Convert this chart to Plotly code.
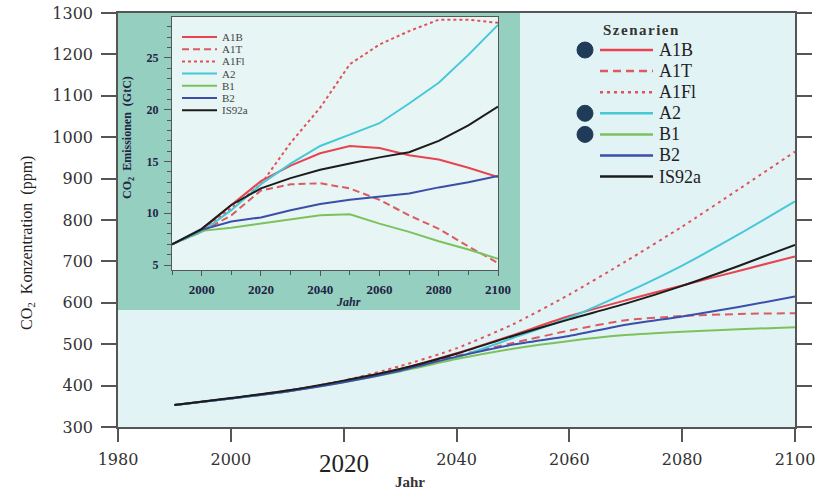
import plotly.graph_objects as go

# ---------------------------------------------------------------- data
years = [1990, 2000, 2010, 2020, 2030, 2040, 2050, 2060, 2070, 2080, 2090, 2100]
scenarios = ["A1B", "A1T", "A1FI", "A2", "B1", "B2", "IS92a"]

# CO2 concentration (ppm)
conc_a1b = [353, 369, 387, 411, 440, 478, 522, 568, 606, 642, 677, 712]
conc_a1t = [353, 369, 387, 410, 437, 472, 503, 533, 558, 568, 573, 575]
conc_a1fi = [353, 369, 388, 412, 447, 490, 548, 620, 700, 784, 874, 965]
conc_a2 = [353, 369, 386, 410, 437, 468, 515, 564, 624, 690, 765, 845]
conc_b1 = [353, 369, 386, 408, 434, 464, 489, 508, 522, 530, 536, 541]
conc_b2 = [353, 369, 386, 408, 436, 470, 499, 520, 547, 567, 590, 615]
conc_is92a = [353, 370, 388, 412, 440, 477, 520, 560, 598, 641, 689, 740]

# CO2 emissions (GtC)
emis_a1b = [7.0, 8.4, 10.8, 13.1, 14.6, 15.8, 16.5, 16.3, 15.6, 15.2, 14.4, 13.5]
emis_a1t = [7.0, 8.2, 9.8, 12.2, 12.8, 12.9, 12.4, 11.3, 9.8, 8.5, 6.8, 5.2]
emis_a1fi = [7.0, 8.3, 10.5, 12.8, 16.8, 20.2, 24.4, 26.3, 27.6, 28.7, 28.7, 28.4]
emis_a2 = [7.0, 8.2, 10.3, 12.8, 14.8, 16.5, 17.6, 18.7, 20.6, 22.6, 25.3, 28.2]
emis_b1 = [7.0, 8.3, 8.6, 9.0, 9.4, 9.8, 9.9, 9.0, 8.2, 7.3, 6.5, 5.6]
emis_b2 = [7.0, 8.4, 9.2, 9.6, 10.3, 10.9, 11.3, 11.6, 11.9, 12.5, 13.0, 13.6]
emis_is92a = [7.0, 8.5, 10.8, 12.4, 13.4, 14.2, 14.8, 15.4, 15.9, 17.0, 18.5, 20.3]

main_ticks = [1980, 2000, 2020, 2040, 2060, 2080, 2100]
main_ticktext = ["1980", "2000", "", "2040", "2060", "2080", "2100"]
inset_ticks = [2000, 2020, 2040, 2060, 2080, 2100]
inset_yticks = [5, 10, 15, 20, 25]

concentrations = [conc_a1b, conc_a1t, conc_a1fi, conc_a2, conc_b1, conc_b2, conc_is92a]
emissions = [emis_a1b, emis_a1t, emis_a1fi, emis_a2, emis_b1, emis_b2, emis_is92a]

# ---------------------------------------------------------------- styling
W, H = 827, 490
colors = ["#e8434f", "#dc5a62", "#e0525a", "#46c8d8", "#7cc25c", "#3b4ea8", "#1c1c1c"]
dashes_main = ["solid", "8px,5px", "3px,4px", "solid", "solid", "solid", "solid"]
dashes_inset = ["solid", "7px,4px", "3px,3px", "solid", "solid", "solid", "solid"]
legend_labels = ["A1B", "A1T", "A1Fl", "A2", "B1", "B2", "IS92a"]
marked = [True, False, False, True, True, False, False]

SERIF = "Liberation Serif"
TICKSERIF = "DejaVu Serif"
AXIS = "#555555"


def px(x):
    return x / W


def py(y):
    return 1 - y / H


fig = go.Figure()

for name, c, col, d in zip(scenarios, concentrations, colors, dashes_main):
    fig.add_trace(go.Scatter(
        x=years, y=c, mode="lines", name=name, showlegend=False,
        line=dict(color=col, width=2, dash=d, shape="spline", smoothing=0.6),
        xaxis="x", yaxis="y"))

for name, e, col, d in zip(scenarios, emissions, colors, dashes_inset):
    fig.add_trace(go.Scatter(
        x=years, y=e, mode="lines", name=name, showlegend=False,
        line=dict(color=col, width=2, dash=d),
        xaxis="x2", yaxis="y2"))

shapes = [
    # main plotting area
    dict(type="rect", xref="paper", yref="paper", x0=px(118), x1=px(795), y0=py(427), y1=py(13),
         fillcolor="#e2f3f5", line=dict(width=0), layer="below"),
    # inset panel
    dict(type="rect", xref="paper", yref="paper", x0=px(118), x1=px(520), y0=py(310), y1=py(13),
         fillcolor="#95cfbf", line=dict(width=0), layer="below"),
    # inset plotting area
    dict(type="rect", xref="paper", yref="paper", x0=px(172), x1=px(498), y0=py(270), y1=py(17),
         fillcolor="#e7f5f4", line=dict(width=0), layer="below"),
]

annotations = []

# main legend
annotations.append(dict(
    text='<b><span style="letter-spacing:1.5px">Szenarien</span></b>', xref="paper", yref="paper",
    x=px(601), y=py(30), xanchor="left", yanchor="middle", showarrow=False,
    font=dict(family=SERIF, size=15, color="#333")))
for i, (lab, col, d, m) in enumerate(zip(legend_labels, colors, dashes_main, marked)):
    yy = 50 + 21.1 * i
    shapes.append(dict(type="line", xref="paper", yref="paper", x0=px(600), x1=px(653),
                       y0=py(yy), y1=py(yy), line=dict(color=col, width=2.5, dash=d)))
    annotations.append(dict(text=lab, xref="paper", yref="paper", x=px(657), y=py(yy),
                            xanchor="left", yanchor="middle", showarrow=False,
                            font=dict(family=SERIF, size=18, color="#222")))
    if m:
        shapes.append(dict(type="circle", xref="paper", yref="paper",
                           x0=px(577), x1=px(593), y0=py(yy + 8), y1=py(yy - 8),
                           fillcolor="#1f3b58", line=dict(color="#1f3b58", width=1)))

# inset legend
for i, (lab, col, d) in enumerate(zip(legend_labels, colors, dashes_inset)):
    yy = 37 + 12.2 * i
    shapes.append(dict(type="line", xref="paper", yref="paper", x0=px(182), x1=px(217),
                       y0=py(yy), y1=py(yy), line=dict(color=col, width=2, dash=d)))
    annotations.append(dict(text=lab, xref="paper", yref="paper", x=px(220), y=py(yy),
                            xanchor="left", yanchor="middle", showarrow=False,
                            font=dict(family=SERIF, size=11, color="#444")))

# axis titles
annotations += [
    dict(text="CO<sub>2</sub>  Konzentration  (ppm)", xref="paper", yref="paper",
         x=px(28), y=py(243), textangle=-90, showarrow=False, xanchor="center", yanchor="middle",
         font=dict(family=SERIF, size=16, color="#222")),
    dict(text="<b>Jahr</b>", xref="paper", yref="paper", x=px(410), y=py(482),
         showarrow=False, xanchor="center", yanchor="middle",
         font=dict(family=SERIF, size=15, color="#333")),
    dict(text="2020", xref="x", yref="paper", x=2020, y=py(463),
         showarrow=False, xanchor="center", yanchor="middle",
         font=dict(family=SERIF, size=25, color="#222")),
    dict(text="<b>CO<sub>2</sub>  Emissionen  (GtC)</b>", xref="paper", yref="paper",
         x=px(128), y=py(138), textangle=-90, showarrow=False, xanchor="center", yanchor="middle",
         font=dict(family=SERIF, size=12, color="#224")),
    dict(text="<b><i>Jahr</i></b>", xref="paper", yref="paper", x=px(348), y=py(302),
         showarrow=False, xanchor="center", yanchor="middle",
         font=dict(family=SERIF, size=12, color="#224")),
]

fig.update_layout(
    width=W, height=H,
    margin=dict(l=0, r=0, t=0, b=0),
    paper_bgcolor="white",
    plot_bgcolor="rgba(0,0,0,0)",
    showlegend=False,
    shapes=shapes,
    annotations=annotations,
    xaxis=dict(
        domain=[px(118), px(795)], range=[1980, 2100], anchor="y", automargin=False,
        tickmode="array", tickvals=main_ticks, ticktext=main_ticktext,
        ticks="outside", ticklen=13, tickwidth=1.5, tickcolor=AXIS,
        showline=True, linecolor=AXIS, linewidth=1.5, mirror=True,
        showgrid=False, zeroline=False, ticklabelstandoff=4,
        tickfont=dict(family=TICKSERIF, size=16, color="#333"),
    ),
    yaxis=dict(
        domain=[py(427), py(13)], range=[300, 1300], anchor="x", automargin=False,
        tickmode="linear", tick0=300, dtick=100,
        ticks="outside", ticklen=15, tickwidth=1.5, tickcolor=AXIS,
        showline=True, linecolor=AXIS, linewidth=1.5, mirror="ticks",
        showgrid=False, zeroline=False, ticklabelstandoff=5,
        tickfont=dict(family=TICKSERIF, size=16, color="#333"),
    ),
    xaxis2=dict(
        domain=[px(172), px(498)], range=[1990, 2100], anchor="y2", automargin=False,
        tickmode="array", tickvals=inset_ticks,
        ticks="outside", ticklen=5, tickwidth=1, tickcolor=AXIS,
        minor=dict(dtick=10, tick0=1990, ticks="outside", ticklen=4, tickcolor=AXIS),
        showline=True, linecolor=AXIS, linewidth=1.2, mirror=True,
        showgrid=False, zeroline=False, ticklabelstandoff=2,
        tickfont=dict(family=SERIF, size=13, color="#224", weight="bold"),
    ),
    yaxis2=dict(
        domain=[py(270), py(17)], range=[4.52, 28.96], anchor="x2", automargin=False,
        tickmode="array", tickvals=inset_yticks,
        ticks="outside", ticklen=7, tickwidth=1, tickcolor=AXIS,
        minor=dict(dtick=1, tick0=5, ticks="outside", ticklen=4, tickcolor=AXIS),
        showline=True, linecolor=AXIS, linewidth=1.2, mirror=True,
        showgrid=False, zeroline=False, ticklabelstandoff=3,
        tickfont=dict(family=SERIF, size=12, color="#224", weight="bold"),
    ),
)

fig.write_html("out.html")
